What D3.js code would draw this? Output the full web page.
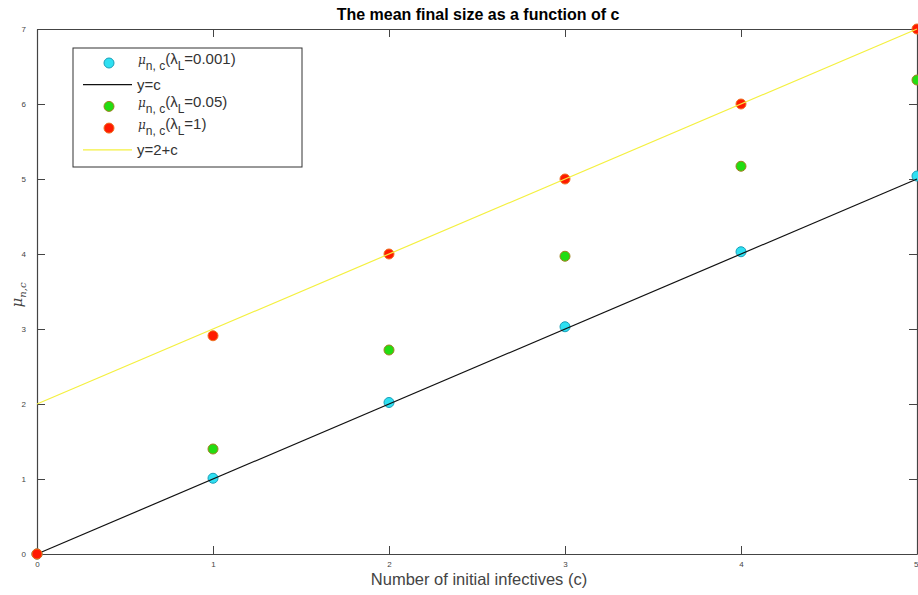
<!doctype html>
<html>
<head>
<meta charset="utf-8">
<script src="https://cdnjs.cloudflare.com/ajax/libs/d3/7.8.5/d3.min.js"></script>
<style>
  body { margin: 0; background: #fff; }
  svg { font-family: "Liberation Sans", Arial, sans-serif; }
  .axis path, .axis line { stroke: #444; }
  .axis text { fill: #444; font-size: 8px; }
</style>
</head>
<body>
<svg id="chart" width="918" height="595"></svg>
<script>
// data
var cVals = [0, 1, 2, 3, 4, 5];
var muL0001 = [0, 1.01, 2.02, 3.03, 4.03, 5.04];
var muL005 = [0, 1.40, 2.72, 3.97, 5.17, 6.32];
var muL1 = [0, 2.91, 4.00, 5.00, 6.00, 7.00];
var lineX = [0, 5];
var lineYc = [0, 5];
var lineY2c = [2, 7];
var xTicks = [0, 1, 2, 3, 4, 5];
var yTicks = [0, 1, 2, 3, 4, 5, 6, 7];

var svg = d3.select("#chart");
var pLeft = 37, pRight = 917, pTop = 29, pBottom = 554;

var x = d3.scaleLinear().domain([0, 5]).range([pLeft, pRight]);
var y = d3.scaleLinear().domain([0, 7]).range([pBottom, pTop]);
var fmt = d3.format("d");

// axes, ticks pointing inward like matlab
var xAxisG = svg.append("g").attr("class", "axis")
  .attr("transform", "translate(0," + pBottom + ")")
  .call(d3.axisBottom(x).tickValues(xTicks).tickFormat(fmt).tickSize(-8).tickPadding(7).tickSizeOuter(0));
svg.append("g").attr("class", "axis")
  .attr("transform", "translate(" + pLeft + ",0)")
  .call(d3.axisLeft(y).tickValues(yTicks).tickFormat(fmt).tickSize(-8).tickPadding(11).tickSizeOuter(0));
svg.append("g").attr("class", "axis")
  .attr("transform", "translate(0," + pTop + ")")
  .call(d3.axisTop(x).tickValues(xTicks).tickSize(-8).tickFormat("").tickSizeOuter(0));
svg.append("g").attr("class", "axis")
  .attr("transform", "translate(" + pRight + ",0)")
  .call(d3.axisRight(y).tickValues(yTicks).tickSize(-8).tickFormat("").tickSizeOuter(0));
svg.selectAll(".axis path").attr("stroke-width", 1.2);
// last x label sits on the window edge
xAxisG.selectAll("text").filter(function(d) { return d === 5; })
  .attr("text-anchor", "end").attr("dx", 1);

function dots(vals, fill, edge) {
  svg.append("g").selectAll("circle")
    .data(cVals)
    .enter()
    .append("circle")
      .attr("cx", function(d) { return x(d); })
      .attr("cy", function(d, i) { return y(vals[i]); })
      .attr("r", 5)
      .attr("fill", fill)
      .attr("stroke", edge)
      .attr("stroke-width", 1);
}
function straight(ys, color) {
  var line = d3.line().x(function(d) { return x(d); }).y(function(d, i) { return y(ys[i]); });
  svg.append("path")
    .attr("d", line(lineX))
    .attr("fill", "none")
    .attr("stroke", color)
    .attr("stroke-width", 1.2);
}

dots(muL0001, "#2ee0f2", "#1a9fb8");
straight(lineYc, "#111");
dots(muL005, "#22dd11", "#a08020");
dots(muL1, "#ff1a00", "#f07020");
straight(lineY2c, "#f4f040");

// title and labels
svg.append("text")
  .attr("x", 478).attr("y", 20)
  .attr("text-anchor", "middle")
  .attr("font-size", 16).attr("font-weight", "bold")
  .text("The mean final size as a function of c");

svg.append("text")
  .attr("x", 479).attr("y", 585)
  .attr("text-anchor", "middle")
  .attr("font-size", 16.5).attr("fill", "#444")
  .text("Number of initial infectives (c)");

var yl = svg.append("text")
  .attr("transform", "translate(22,295) rotate(-90)")
  .attr("text-anchor", "middle")
  .attr("font-size", 15).attr("fill", "#444")
  .attr("font-family", "DejaVu Serif").attr("font-style", "italic");
yl.append("tspan").text("μ");
yl.append("tspan").attr("font-size", 10).attr("dy", 4).text("n,c");

// legend
var lg = svg.append("g");
lg.append("rect")
  .attr("x", 73).attr("y", 48).attr("width", 229).attr("height", 119)
  .attr("fill", "#fff").attr("stroke", "#333").attr("stroke-width", 1);

var entries = [
  { kind: "dot", fill: "#2ee0f2", edge: "#1a9fb8", lam: "=0.001)" },
  { kind: "line", color: "#111", label: "y=c" },
  { kind: "dot", fill: "#22dd11", edge: "#a08020", lam: "=0.05)" },
  { kind: "dot", fill: "#ff1a00", edge: "#f07020", lam: "=1)" },
  { kind: "line", color: "#f4f040", label: "y=2+c" }
];
entries.forEach(function(e, i) {
  var ey = 63 + i * 21.7;
  if (e.kind === "dot") {
    lg.append("circle").attr("cx", 109).attr("cy", ey).attr("r", 5)
      .attr("fill", e.fill).attr("stroke", e.edge);
    var t = lg.append("text").attr("x", 138).attr("y", ey + 1)
      .attr("font-size", 15).attr("fill", "#333");
    t.append("tspan").attr("font-family", "DejaVu Serif").attr("font-style", "italic")
      .attr("font-size", 12).text("μ");
    t.append("tspan").attr("font-size", 12).attr("dy", 6).text("n, c");
    t.append("tspan").attr("dy", -6).text("(λ");
    t.append("tspan").attr("font-size", 12).attr("dy", 6).text("L");
    t.append("tspan").attr("dy", -6).text(e.lam);
  } else {
    lg.append("line").attr("x1", 83).attr("x2", 132).attr("y1", ey).attr("y2", ey)
      .attr("stroke", e.color).attr("stroke-width", 1.2);
    lg.append("text").attr("x", 137).attr("y", ey + 5)
      .attr("font-size", 15).attr("fill", "#333").text(e.label);
  }
});
</script>
</body>
</html>
